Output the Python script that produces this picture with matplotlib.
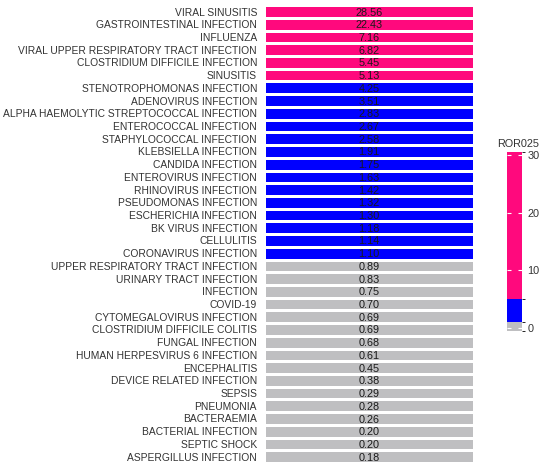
import matplotlib
matplotlib.use("Agg")
import matplotlib.pyplot as plt
import numpy as np
from matplotlib.colors import ListedColormap, BoundaryNorm
from matplotlib.cm import ScalarMappable

categories = [
    "VIRAL SINUSITIS", "GASTROINTESTINAL INFECTION", "INFLUENZA",
    "VIRAL UPPER RESPIRATORY TRACT INFECTION", "CLOSTRIDIUM DIFFICILE INFECTION",
    "SINUSITIS", "STENOTROPHOMONAS INFECTION", "ADENOVIRUS INFECTION",
    "ALPHA HAEMOLYTIC STREPTOCOCCAL INFECTION", "ENTEROCOCCAL INFECTION",
    "STAPHYLOCOCCAL INFECTION", "KLEBSIELLA INFECTION", "CANDIDA INFECTION",
    "ENTEROVIRUS INFECTION", "RHINOVIRUS INFECTION", "PSEUDOMONAS INFECTION",
    "ESCHERICHIA INFECTION", "BK VIRUS INFECTION", "CELLULITIS",
    "CORONAVIRUS INFECTION", "UPPER RESPIRATORY TRACT INFECTION",
    "URINARY TRACT INFECTION", "INFECTION", "COVID-19",
    "CYTOMEGALOVIRUS INFECTION", "CLOSTRIDIUM DIFFICILE COLITIS",
    "FUNGAL INFECTION", "HUMAN HERPESVIRUS 6 INFECTION", "ENCEPHALITIS",
    "DEVICE RELATED INFECTION", "SEPSIS", "PNEUMONIA", "BACTERAEMIA",
    "BACTERIAL INFECTION", "SEPTIC SHOCK", "ASPERGILLUS INFECTION",
]
ror025 = [
    28.56, 22.43, 7.16, 6.82, 5.45, 5.13, 4.25, 3.51, 2.83, 2.67, 2.58, 1.91,
    1.75, 1.63, 1.42, 1.32, 1.30, 1.18, 1.14, 1.10, 0.89, 0.83, 0.75, 0.70,
    0.69, 0.69, 0.68, 0.61, 0.45, 0.38, 0.29, 0.28, 0.26, 0.20, 0.20, 0.18,
]
colors = ["#BFBFC1", "#0000FF", "#FF097D"]
bounds = [-0.5, 1.0, 5.0, 30.5]
cbar_ticks = [0, 10, 20, 30]
legend_title = "ROR025"

plt.rcParams["font.family"] = ["Liberation Sans", "DejaVu Sans"]

cmap = ListedColormap(colors)
norm = BoundaryNorm(bounds, cmap.N)

fig = plt.figure(figsize=(5.5, 4.71), dpi=100)
ax = fig.add_axes([0.48, 0.017, 0.382, 0.972])

data = np.array(ror025).reshape(-1, 1)
n = len(categories)
ax.pcolormesh(np.arange(2), np.arange(n + 1), data, cmap=cmap, norm=norm,
              edgecolors="white", linewidth=1.0)
ax.set_ylim(n, 0)
ax.set_xlim(0, 1)
for i, v in enumerate(ror025):
    ax.text(0.5, i + 0.58, f"{v:.2f}", ha="center", va="center",
            fontsize=7.8, color="#1a1a1a")
ax.set_yticks(np.arange(n) + 0.5)
ax.set_yticklabels(categories, fontsize=7.4, color="#333333")
ax.tick_params(axis="y", length=0, pad=5)
ax.set_xticks([])
for s in ax.spines.values():
    s.set_visible(False)

cax = fig.add_axes([0.922, 0.297, 0.027, 0.38])
sm = ScalarMappable(norm=norm, cmap=cmap)
cb = fig.colorbar(sm, cax=cax, ticks=cbar_ticks, spacing="proportional")
cb.outline.set_visible(False)
cb.ax.tick_params(direction="in", length=3, color="white", width=0.8,
                  left=True, right=True, labelsize=7.8, labelcolor="#333333", pad=4)
cax.text(-0.7, 1.015, legend_title, transform=cax.transAxes, ha="left",
         va="bottom", fontsize=7.8, color="#333333")

fig.savefig("out.png", dpi=100)
